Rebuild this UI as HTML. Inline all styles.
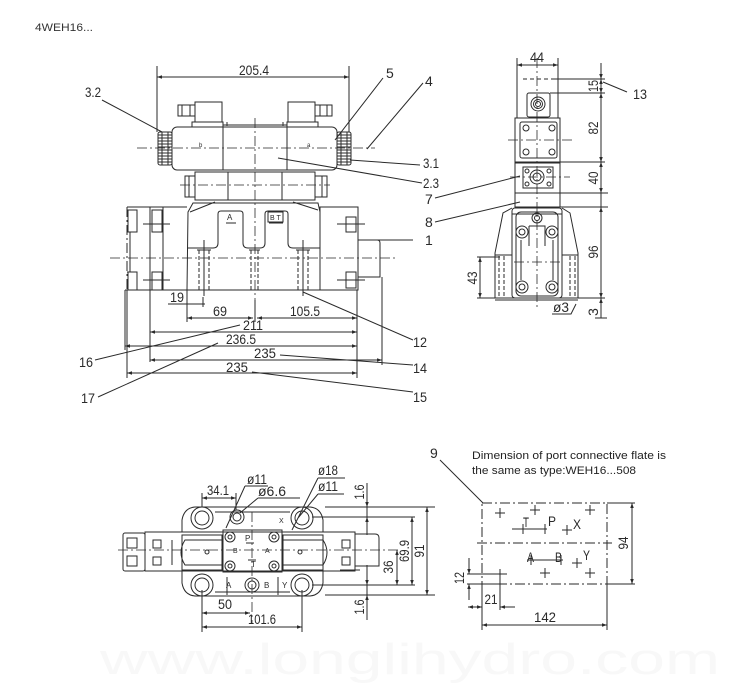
<!DOCTYPE html>
<html><head><meta charset="utf-8"><style>
html,body{margin:0;padding:0;background:#fff;}
svg{display:block;}
text{font-family:"Liberation Sans Narrow","Liberation Sans",sans-serif;fill:#2a2a2a;}
.n{font-size:14px;}
.s{font-size:8px;}
</style></head><body>
<svg width="750" height="699" viewBox="0 0 750 699" xmlns="http://www.w3.org/2000/svg">
<defs>
<marker id="a" viewBox="0 0 10 10" refX="10" refY="5" markerWidth="8" markerHeight="5" orient="auto-start-reverse" markerUnits="userSpaceOnUse"><path d="M0,1.5 L10,5 L0,8.5z" fill="#2a2a2a"/></marker>
</defs>
<rect width="750" height="699" fill="#fff"/>
<text x="35" y="31" style="font-family:'Liberation Sans',sans-serif;font-size:11px;fill:#333" textLength="58" lengthAdjust="spacingAndGlyphs">4WEH16...</text>
<text x="100" y="674" style="font-family:'Liberation Sans',sans-serif;font-size:44px;fill:#f8f8f8" textLength="620" lengthAdjust="spacingAndGlyphs">www.longlihydro.com</text>

<g fill="none" stroke="#2a2a2a" stroke-width="1">
<!-- ============ FRONT VIEW ============ -->
<line x1="157" y1="66" x2="157" y2="132"/><line x1="349" y1="66" x2="349" y2="132"/>
<line x1="157" y1="77" x2="349" y2="77" marker-start="url(#a)" marker-end="url(#a)"/>
<!-- knobs -->
<rect x="158" y="132" width="14" height="33" rx="2"/>
<path d="M158,135h14M158,138h14M158,141h14M158,144h14M158,147h14M158,150h14M158,153h14M158,156h14M158,159h14M158,162h14M162,132v33M168,132v33"/>
<rect x="337" y="132" width="14" height="33" rx="2"/>
<path d="M337,135h14M337,138h14M337,141h14M337,144h14M337,147h14M337,150h14M337,153h14M337,156h14M337,159h14M337,162h14M341,132v33M347,132v33"/>
<!-- solenoid body -->
<rect x="172" y="127" width="165" height="43" rx="5"/>
<path d="M223,127v43M287,127v43M223,125h64M227,122v4M283,122v4"/>
<path d="M192,127v-5h31v5M195,122v-20h27v20M178,105h17v11h-17zM182,105v11M190,105v11"/>
<path d="M287,127v-5h31v5M288,122v-20h27v20M315,105h17v11h-17zM320,105v11M327,105v11"/>
<!-- pilot body -->
<rect x="195" y="172" width="120" height="28"/>
<path d="M228,172v28M282,172v28"/>
<rect x="185" y="176" width="10" height="21"/><path d="M189,176v21"/>
<rect x="315" y="176" width="12" height="21"/><path d="M322,176v21"/>
<!-- main body -->
<path d="M187,290 L188,212 L193,203 L318,203 L320,212 L320,290"/>
<path d="M190,212 L215,202M293,202 L318,210"/>
<path d="M187,248 L213,248 Q218,248 218,243 L218,214 Q218,211 221,211 L240,211 Q243,211 243,214 L243,243 Q243,248 248,248 L260,248 Q265,248 265,243 L265,214 Q265,211 268,211 L285,211 Q288,211 288,214 L288,243 Q288,248 293,248 L320,248"/>
<path d="M226,223h10M269,223h14"/>
<rect x="268" y="212" width="15" height="10"/>
<!-- studs -->
<g stroke-dasharray="4 2">
<path d="M199,250v40M209,250v40M251,250v40M258,250v40M298,250v40M308,250v40"/>
</g>
<path d="M197,250h14M249,250h11M296,250h14M204,240v56M303,240v56"/>
<!-- left plate -->
<path d="M127,207 L187,207"/>
<path d="M127,207 v83" stroke-dasharray="10 3 2 3"/>
<path d="M150,207v155M130,232v40M127,232h3M127,272h3M163,207v83"/>
<rect x="128" y="210" width="9" height="22"/><rect x="152" y="210" width="10" height="22"/>
<rect x="128" y="272" width="9" height="18"/><rect x="152" y="272" width="10" height="18"/>
<path d="M143,224h27M143,280h27"/>
<!-- right plate -->
<rect x="320" y="207" width="38" height="83"/>
<rect x="346" y="217" width="10" height="15"/><rect x="346" y="272" width="10" height="16"/>
<path d="M337,224h28M337,280h28M358,240 L377,240 Q380,240 380,243 L380,277 L358,277"/>
<path d="M360,240 H413"/>
<!-- base line -->
<path d="M125,290 H358"/>
<!-- centerlines -->
<g stroke-dasharray="10 3 2 3" stroke-width="0.8">
<path d="M137,148H375M180,185H330M110,258H398M255,118V300"/>
</g>
<!-- ext lines -->
<path d="M125,290v60M127,290v88M382,277v88M187,290v32M255,300v22M357,290v88M168,304h37M203,297v10"/>
<!-- dims -->
<line x1="168" y1="304" x2="187" y2="304"/>
<line x1="187" y1="318" x2="253" y2="318" marker-start="url(#a)" marker-end="url(#a)"/>
<line x1="257" y1="318" x2="357" y2="318" marker-start="url(#a)" marker-end="url(#a)"/>
<line x1="150" y1="332" x2="357" y2="332" marker-start="url(#a)" marker-end="url(#a)"/>
<line x1="125" y1="346" x2="357" y2="346" marker-start="url(#a)" marker-end="url(#a)"/>
<line x1="150" y1="360" x2="382" y2="360" marker-start="url(#a)" marker-end="url(#a)"/>
<line x1="127" y1="373" x2="357" y2="373" marker-start="url(#a)" marker-end="url(#a)"/>
<!-- leaders -->
<path d="M102,100 L162,132M383,78 L335,140M423,83 L367,149M350,160 L420,165M278,158 L422,183M435,198 L520,176M435,222 L520,202M95,360 L240,325M98,397 L218,343M413,340 L303,292M413,365 L280,355M413,392 L252,372"/>

<!-- ============ SIDE VIEW ============ -->
<path d="M517,58v60M558,58v60"/>
<line x1="517" y1="65" x2="558" y2="65" marker-start="url(#a)" marker-end="url(#a)"/>
<path d="M523,79h32" stroke-dasharray="4 3"/>
<path d="M555,79h50M550,93h55M560,162h45M560,193h48M560,207h48"/>
<rect x="527" y="93" width="23" height="24" rx="2"/>
<circle cx="538" cy="104" r="7"/><circle cx="538" cy="104" r="4.5"/><circle cx="538" cy="104" r="2.5"/>
<rect x="515" y="118" width="45" height="44"/>
<rect x="520" y="122" width="37" height="36" rx="2"/>
<circle cx="526" cy="128" r="3"/><circle cx="552" cy="128" r="3"/><circle cx="526" cy="152" r="3"/><circle cx="552" cy="152" r="3"/>
<rect x="515" y="163" width="45" height="30"/>
<rect x="523" y="167" width="30" height="21"/>
<circle cx="527" cy="171" r="2"/><circle cx="549" cy="171" r="2"/><circle cx="527" cy="184" r="2"/><circle cx="549" cy="184" r="2"/>
<circle cx="537" cy="177" r="7"/><circle cx="537" cy="177" r="4"/>
<rect x="515" y="193" width="45" height="14"/>
<!-- lower -->
<path d="M512,208 L503,213 L495,253 L495,298M562,208 L570,213 L578,253 L578,298"/>
<path d="M495,255h17M562,255h16"/>
<g stroke-dasharray="4 2"><path d="M499,256v41M504,256v41M570,256v41M575,256v41"/></g>
<rect x="512" y="208" width="50" height="90" rx="3"/>
<rect x="516" y="212" width="42" height="84" rx="5"/>
<path d="M512,214h50M521,240v40M553,240v40M529,226h16v20M529,226v20"/>
<circle cx="537" cy="218" r="5"/><circle cx="537" cy="218" r="2.5"/>
<circle cx="522" cy="232" r="6"/><circle cx="522" cy="232" r="3"/>
<circle cx="552" cy="232" r="6"/><circle cx="552" cy="232" r="3"/>
<circle cx="522" cy="287" r="6"/><circle cx="522" cy="287" r="3"/>
<circle cx="552" cy="287" r="6"/><circle cx="552" cy="287" r="3"/>
<path d="M477,298H605M495,300h83M477,257h23"/>
<g stroke-dasharray="10 3 2 3" stroke-width="0.8"><path d="M537,58V310M508,140h64M510,177h60M514,262h46"/></g>
<line x1="601" y1="63" x2="601" y2="79" marker-end="url(#a)"/>
<line x1="601" y1="79" x2="601" y2="93" marker-start="url(#a)" marker-end="url(#a)"/>
<line x1="601" y1="93" x2="601" y2="162" marker-start="url(#a)" marker-end="url(#a)"/>
<line x1="601" y1="162" x2="601" y2="193" marker-start="url(#a)" marker-end="url(#a)"/>
<line x1="601" y1="207" x2="601" y2="298" marker-start="url(#a)" marker-end="url(#a)"/>
<line x1="601" y1="318" x2="601" y2="298" marker-end="url(#a)"/>
<path d="M601,193v14M595,318h12"/>
<line x1="480" y1="257" x2="480" y2="298" marker-start="url(#a)" marker-end="url(#a)"/>
<path d="M552,314h19l5,-10M603,82 L627,92"/>

<!-- ============ TOP VIEW ============ -->
<path d="M182,532 L182,520 Q184,508 195,507 L310,507 Q321,508 323,520 L323,532"/>
<path d="M182,570 L182,583 Q184,595 195,596 L310,596 Q321,595 323,583 L323,570"/>
<path d="M215,512h75M215,592h75M227,577v18M278,577v18"/>
<circle cx="202" cy="518" r="11"/><circle cx="202" cy="518" r="7"/>
<circle cx="302" cy="518" r="11"/><circle cx="302" cy="518" r="7"/>
<circle cx="202" cy="585" r="11"/><circle cx="202" cy="585" r="7"/>
<circle cx="302" cy="585" r="11"/><circle cx="302" cy="585" r="7"/>
<circle cx="237" cy="517" r="7"/><circle cx="237" cy="517" r="4"/>
<circle cx="252" cy="585" r="7"/><circle cx="252" cy="585" r="4"/>
<rect x="145" y="532" width="210" height="39"/>
<rect x="123" y="533" width="22" height="38" rx="2"/>
<rect x="127" y="538" width="10" height="10"/><rect x="127" y="556" width="10" height="10"/>
<rect x="153" y="540" width="8" height="8"/><rect x="153" y="557" width="8" height="8"/>
<rect x="342" y="540" width="8" height="8"/><rect x="342" y="557" width="8" height="8"/>
<path d="M355,534 L375,534 Q379,534 379,538 L379,566 L355,566"/>
<rect x="182" y="535" width="40" height="35"/>
<path d="M185,540h37v25h-37q-8,-12.5 0,-25zM172,540v25"/>
<path d="M283,535h40v35h-40zM283,540h40q8,12.5 0,25h-40"/>
<circle cx="207" cy="552" r="2"/><circle cx="300" cy="552" r="2"/>
<rect x="223" y="530" width="59" height="42"/>
<circle cx="230" cy="537" r="5"/><circle cx="230" cy="537" r="2"/>
<circle cx="274" cy="537" r="5"/><circle cx="274" cy="537" r="2"/>
<circle cx="230" cy="566" r="5"/><circle cx="230" cy="566" r="2"/>
<circle cx="274" cy="566" r="5"/><circle cx="274" cy="566" r="2"/>
<path d="M246,543h8M248,560h8"/>
<g stroke-dasharray="10 3 2 3" stroke-width="0.8"><path d="M118,550H400M252,512V623"/></g>
<!-- dims -->
<path d="M202,493v14M236,493v17M202,590v42M302,590v42"/>
<line x1="202" y1="498" x2="236" y2="498" marker-start="url(#a)" marker-end="url(#a)"/>
<line x1="202" y1="613" x2="250" y2="613" marker-start="url(#a)" marker-end="url(#a)"/>
<line x1="202" y1="627" x2="302" y2="627" marker-start="url(#a)" marker-end="url(#a)"/>
<path d="M245,486h23 M245,486 L226,528M258,498h42M258,498 L240,513M318,478h27M318,478 L292,530M318,494h26M318,494 L298,518"/>
<path d="M325,507h110M312,517h103M312,585h103M325,595h110M340,570h20"/>
<line x1="367" y1="483" x2="367" y2="507" marker-end="url(#a)"/>
<line x1="367" y1="535" x2="367" y2="517" marker-end="url(#a)"/>
<path d="M367,507v10M367,585v10"/>
<line x1="367" y1="565" x2="367" y2="585" marker-end="url(#a)"/>
<line x1="367" y1="620" x2="367" y2="595" marker-end="url(#a)"/>
<line x1="397" y1="550" x2="397" y2="585" marker-start="url(#a)" marker-end="url(#a)"/>
<line x1="412" y1="517" x2="412" y2="585" marker-start="url(#a)" marker-end="url(#a)"/>
<line x1="427" y1="507" x2="427" y2="595" marker-start="url(#a)" marker-end="url(#a)"/>

<!-- ============ PLATE ============ -->
<g stroke-dasharray="10 3 2 3"><path d="M482,503H607V584H482ZM477,543H612"/></g>
<path d="M607,503h28M607,584h28M482,584v46M607,584v46M440,460 L483,503"/>
<line x1="632" y1="503" x2="632" y2="584" marker-start="url(#a)" marker-end="url(#a)"/>
<line x1="482" y1="625" x2="607" y2="625" marker-start="url(#a)" marker-end="url(#a)"/>
<path d="M467,574h40M467,584h40M500,569v41"/>
<line x1="469" y1="558" x2="469" y2="574" marker-end="url(#a)"/>
<line x1="469" y1="600" x2="469" y2="584" marker-end="url(#a)"/>
<line x1="468" y1="607" x2="482" y2="607" marker-start="url(#a)" marker-end="url(#a)"/>
<line x1="515" y1="607" x2="500" y2="607" marker-end="url(#a)"/>
<path d="M495,513h10M500,508v10M530,510h10M535,505v10M585,510h10M590,505v10M562,530h10M567,525v10M540,573h10M545,568v10M585,573h10M590,568v10M572,563h10M577,558v10"/>
<path d="M512,529h35M523,524v10M545,524v10M527,560h36M531,555v10M561,555v10"/>
</g>

<!-- ============ TEXT ============ -->
<g class="n">
<text x="254" y="75" text-anchor="middle" textLength="30" lengthAdjust="spacingAndGlyphs">205.4</text>
<text x="85" y="97" textLength="16" lengthAdjust="spacingAndGlyphs">3.2</text>
<text x="386" y="78">5</text>
<text x="425" y="86">4</text>
<text x="423" y="168" textLength="16" lengthAdjust="spacingAndGlyphs">3.1</text>
<text x="423" y="188" textLength="16" lengthAdjust="spacingAndGlyphs">2.3</text>
<text x="425" y="204">7</text>
<text x="425" y="227">8</text>
<text x="425" y="245">1</text>
<text x="413" y="347" textLength="14" lengthAdjust="spacingAndGlyphs">12</text>
<text x="413" y="373" textLength="14" lengthAdjust="spacingAndGlyphs">14</text>
<text x="413" y="402" textLength="14" lengthAdjust="spacingAndGlyphs">15</text>
<text x="79" y="367" textLength="14" lengthAdjust="spacingAndGlyphs">16</text>
<text x="81" y="403" textLength="14" lengthAdjust="spacingAndGlyphs">17</text>
<text x="170" y="302" textLength="14" lengthAdjust="spacingAndGlyphs">19</text>
<text x="220" y="316" text-anchor="middle" textLength="14" lengthAdjust="spacingAndGlyphs">69</text>
<text x="305" y="316" text-anchor="middle" textLength="30" lengthAdjust="spacingAndGlyphs">105.5</text>
<text x="253" y="330" text-anchor="middle" textLength="20" lengthAdjust="spacingAndGlyphs">211</text>
<text x="241" y="344" text-anchor="middle" textLength="30" lengthAdjust="spacingAndGlyphs">236.5</text>
<text x="265" y="358" text-anchor="middle" textLength="22" lengthAdjust="spacingAndGlyphs">235</text>
<text x="237" y="372" text-anchor="middle" textLength="22" lengthAdjust="spacingAndGlyphs">235</text>
<text x="537" y="62" text-anchor="middle" textLength="14" lengthAdjust="spacingAndGlyphs">44</text>
<text x="633" y="99" textLength="14" lengthAdjust="spacingAndGlyphs">13</text>
<text transform="translate(598,86) rotate(-90)" text-anchor="middle" textLength="12" lengthAdjust="spacingAndGlyphs">15</text>
<text transform="translate(598,128) rotate(-90)" text-anchor="middle" textLength="13" lengthAdjust="spacingAndGlyphs">82</text>
<text transform="translate(598,178) rotate(-90)" text-anchor="middle" textLength="13" lengthAdjust="spacingAndGlyphs">40</text>
<text transform="translate(598,252) rotate(-90)" text-anchor="middle" textLength="13" lengthAdjust="spacingAndGlyphs">96</text>
<text transform="translate(598,312) rotate(-90)" text-anchor="middle">3</text>
<text transform="translate(477,278) rotate(-90)" text-anchor="middle" textLength="13" lengthAdjust="spacingAndGlyphs">43</text>
<text x="553" y="312" textLength="16" lengthAdjust="spacingAndGlyphs">ø3</text>
<text x="218" y="495" text-anchor="middle" textLength="22" lengthAdjust="spacingAndGlyphs">34.1</text>
<text x="247" y="484" textLength="20" lengthAdjust="spacingAndGlyphs">ø11</text>
<text x="258" y="496" textLength="28" lengthAdjust="spacingAndGlyphs">ø6.6</text>
<text x="318" y="475" textLength="20" lengthAdjust="spacingAndGlyphs">ø18</text>
<text x="318" y="491" textLength="20" lengthAdjust="spacingAndGlyphs">ø11</text>
<text transform="translate(364,492) rotate(-90)" text-anchor="middle" textLength="15" lengthAdjust="spacingAndGlyphs">1.6</text>
<text transform="translate(364,607) rotate(-90)" text-anchor="middle" textLength="15" lengthAdjust="spacingAndGlyphs">1.6</text>
<text transform="translate(393,567) rotate(-90)" text-anchor="middle" textLength="13" lengthAdjust="spacingAndGlyphs">36</text>
<text transform="translate(409,551) rotate(-90)" text-anchor="middle" textLength="22" lengthAdjust="spacingAndGlyphs">69.9</text>
<text transform="translate(424,551) rotate(-90)" text-anchor="middle" textLength="13" lengthAdjust="spacingAndGlyphs">91</text>
<text x="225" y="609" text-anchor="middle" textLength="14" lengthAdjust="spacingAndGlyphs">50</text>
<text x="262" y="624" text-anchor="middle" textLength="28" lengthAdjust="spacingAndGlyphs">101.6</text>
<text x="430" y="458">9</text>
<text transform="translate(628,543) rotate(-90)" text-anchor="middle" textLength="13" lengthAdjust="spacingAndGlyphs">94</text>
<text x="545" y="622" text-anchor="middle" textLength="22" lengthAdjust="spacingAndGlyphs">142</text>
<text transform="translate(464,578) rotate(-90)" text-anchor="middle" textLength="12" lengthAdjust="spacingAndGlyphs">12</text>
<text x="491" y="604" text-anchor="middle" textLength="13" lengthAdjust="spacingAndGlyphs">21</text>
<text x="523" y="527" textLength="6" lengthAdjust="spacingAndGlyphs">T</text>
<text x="548" y="526" textLength="8" lengthAdjust="spacingAndGlyphs">P</text>
<text x="573" y="529" textLength="8" lengthAdjust="spacingAndGlyphs">X</text>
<text x="527" y="562" textLength="7" lengthAdjust="spacingAndGlyphs">A</text>
<text x="555" y="562" textLength="7" lengthAdjust="spacingAndGlyphs">B</text>
<text x="583" y="560" textLength="7" lengthAdjust="spacingAndGlyphs">Y</text>
</g>
<g class="s">
<text x="199" y="147" style="font-size:6px">b</text>
<text x="307" y="147" style="font-size:6px">a</text>
<text x="227" y="220">A</text>
<text x="270" y="220" style="font-size:7px">B T</text>
<text x="245" y="541">P</text>
<text x="251" y="567">T</text>
<text x="233" y="553" style="font-size:7px">B</text>
<text x="265" y="553" style="font-size:7px">A</text>
<text x="279" y="523" style="font-size:7px">X</text>
<text x="226" y="588">A</text>
<text x="264" y="588">B</text>
<text x="282" y="588">Y</text>
</g>
<text x="472" y="459" style="font-family:'Liberation Sans',sans-serif;font-size:11px;fill:#222" textLength="194" lengthAdjust="spacingAndGlyphs">Dimension of port connective flate is</text>
<text x="472" y="474" style="font-family:'Liberation Sans',sans-serif;font-size:11px;fill:#222" textLength="164" lengthAdjust="spacingAndGlyphs">the same as type:WEH16...508</text>
</svg>
</body></html>
